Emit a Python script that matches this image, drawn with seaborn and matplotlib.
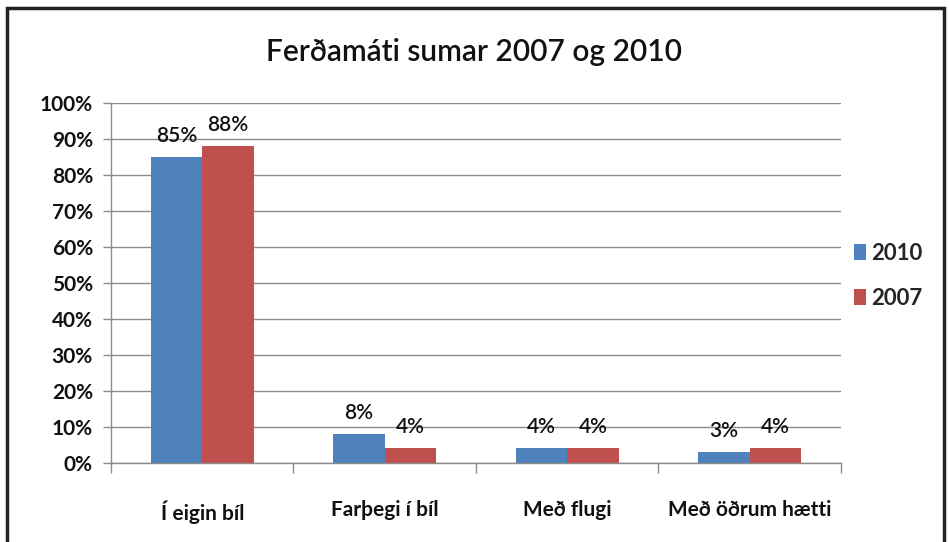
import pandas as pd
import matplotlib.pyplot as plt
import seaborn as sns
from matplotlib.patches import Rectangle
from matplotlib.ticker import PercentFormatter, FixedLocator

categories = ["Í eigin bíl", "Farþegi í bíl", "Með flugi", "Með öðrum hætti"]
years = ["2010", "2007"]
share_2010 = [0.85, 0.08, 0.04, 0.03]
share_2007 = [0.88, 0.04, 0.04, 0.04]
y_ticks = [0, 0.1, 0.2, 0.3, 0.4, 0.5, 0.6, 0.7, 0.8, 0.9, 1.0]

df = pd.DataFrame({
    "flokkur": categories * 2,
    "ar": ["2010"] * 4 + ["2007"] * 4,
    "hlutfall": share_2010 + share_2007,
})

sns.set_style("white")
plt.rcParams["font.family"] = ["Lato", "DejaVu Sans"]

fig = plt.figure(figsize=(9.49, 5.42), dpi=100)
ax = fig.add_axes([0.117, 0.146, 0.769, 0.664])

sns.barplot(data=df, x="flokkur", y="hlutfall", hue="ar", hue_order=years,
            palette=["#4F81BD", "#C0504D"], width=0.565, gap=0, ax=ax,
            saturation=1, edgecolor="none", errorbar=None)

for c in ax.containers:
    ax.bar_label(c, labels=[f"{v*100:.0f}%" for v in c.datavalues],
                 padding=8, fontsize=15, fontweight="semibold", color="#111111")

ax.set_xlim(-0.5, 3.5)
ax.set_ylim(0, 1.0)
ax.yaxis.set_major_locator(FixedLocator(y_ticks))
ax.yaxis.set_major_formatter(PercentFormatter(1.0, decimals=0))
ax.grid(axis="y", color="#8c8c8c", linewidth=1)
ax.set_axisbelow(True)
ax.set_xlabel("")
ax.set_ylabel("")

for s in ["top", "right"]:
    ax.spines[s].set_visible(False)
for s in ["left", "bottom"]:
    ax.spines[s].set_color("#8c8c8c")
    ax.spines[s].set_linewidth(1)

ax.tick_params(axis="y", length=6, width=1, color="#8c8c8c", pad=7,
               labelsize=15, left=True)
ax.tick_params(axis="x", which="major", length=0, pad=27, labelsize=15)
ax.set_xticks([-0.5, 0.5, 1.5, 2.5, 3.5], minor=True)
ax.tick_params(axis="x", which="minor", length=7, width=1, color="#8c8c8c",
               bottom=True)
for lab in ax.get_xticklabels() + ax.get_yticklabels():
    lab.set_fontweight("bold")
    lab.set_color("#111111")

ax.legend(loc="center left", bbox_to_anchor=(0.99, 0.52), frameon=False,
          prop={"size": 16, "weight": "bold"}, handlelength=0.55,
          handleheight=0.75, handletextpad=0.25, labelspacing=1.1)

fig.suptitle("Ferðamáti sumar 2007 og 2010", y=0.93, fontsize=21.5,
             fontweight="semibold", color="#111111")

fig.patches.append(Rectangle((0.007, -0.05), 0.988, 1.035,
                             transform=fig.transFigure, fill=False,
                             edgecolor="#222222", linewidth=2.5))

fig.savefig("out.png", dpi=100)
